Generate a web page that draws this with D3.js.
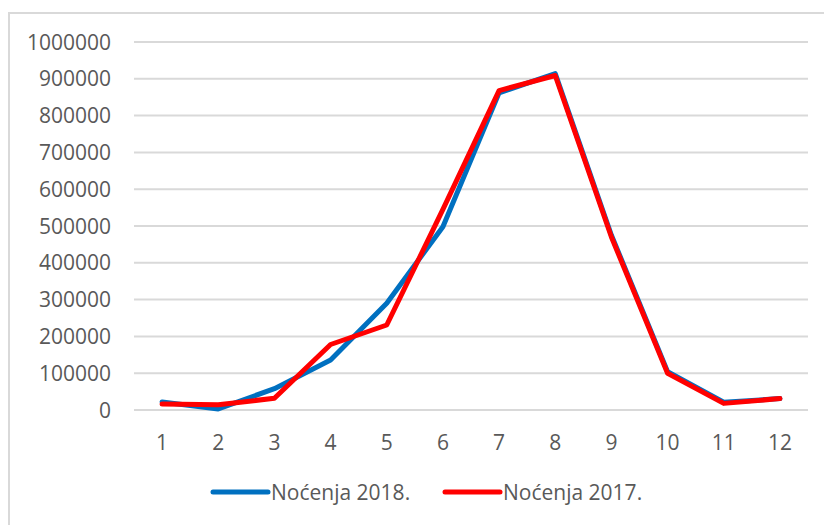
<!DOCTYPE html>
<html>
<head>
<meta charset="utf-8">
<script src="https://cdn.jsdelivr.net/npm/d3@7"></script>
<style>
  body { margin: 0; background: #fff; }
  svg { display: block; font-family: "Open Sans", sans-serif; }
</style>
</head>
<body>
<div id="chart"></div>
<script>
const months = [1, 2, 3, 4, 5, 6, 7, 8, 9, 10, 11, 12];
const nocenja2018 = [22000, 3000, 58000, 136000, 290000, 498000, 862000, 914000, 475000, 104000, 21000, 31000];
const nocenja2017 = [16000, 14000, 32000, 178000, 231000, 545000, 868000, 909000, 470000, 100000, 18000, 31000];
const yTicks = [0, 100000, 200000, 300000, 400000, 500000, 600000, 700000, 800000, 900000, 1000000];

const series = [
  { name: "Noćenja 2018.", values: nocenja2018, color: "#0070c0" },
  { name: "Noćenja 2017.", values: nocenja2017, color: "#ff0000" }
];

const width = 824, height = 525;
const margin = { top: 42, right: 16, bottom: 115, left: 134 };
const fontSize = "21px";

const svg = d3.select("#chart").append("svg")
  .attr("width", width)
  .attr("height", height);

// chart area border
svg.append("rect")
  .attr("x", 9).attr("y", 13)
  .attr("width", width).attr("height", height)
  .attr("fill", "none")
  .attr("stroke", "#d9d9d9")
  .attr("stroke-width", 2);

const x = d3.scaleBand()
  .domain(months)
  .range([margin.left, width - margin.right]);

const y = d3.scaleLinear()
  .domain([0, 1000000])
  .range([height - margin.bottom, margin.top]);

const g = svg.append("g");

// gridlines
g.selectAll("line.grid")
  .data(yTicks)
  .join("line")
  .attr("class", "grid")
  .attr("x1", margin.left)
  .attr("x2", width - margin.right)
  .attr("y1", d => y(d))
  .attr("y2", d => y(d))
  .attr("stroke", "#d9d9d9")
  .attr("stroke-width", 2);

// y labels
g.selectAll("text.ylab")
  .data(yTicks)
  .join("text")
  .attr("class", "ylab")
  .attr("x", margin.left - 23)
  .attr("y", d => y(d))
  .attr("dy", "0.36em")
  .attr("text-anchor", "end")
  .attr("fill", "#595959")
  .style("font-size", fontSize)
  .text(d => d);

// x labels
g.selectAll("text.xlab")
  .data(months)
  .join("text")
  .attr("class", "xlab")
  .attr("x", d => x(d) + x.bandwidth() / 2)
  .attr("y", y(0) + 32)
  .attr("dy", "0.36em")
  .attr("text-anchor", "middle")
  .attr("fill", "#595959")
  .style("font-size", fontSize)
  .text(d => d);

const line = d3.line()
  .x((d, i) => x(months[i]) + x.bandwidth() / 2)
  .y(d => y(d));

g.selectAll("path.series")
  .data(series)
  .join("path")
  .attr("class", "series")
  .attr("d", d => line(d.values))
  .attr("fill", "none")
  .attr("stroke", d => d.color)
  .attr("stroke-width", 5)
  .attr("stroke-linejoin", "round")
  .attr("stroke-linecap", "round");

// legend
const legendX = [213, 445];
const legend = svg.selectAll("g.legend")
  .data(series)
  .join("g")
  .attr("class", "legend")
  .attr("transform", (d, i) => `translate(${legendX[i]},492)`);

legend.append("line")
  .attr("x1", 0).attr("x2", 55)
  .attr("stroke", d => d.color)
  .attr("stroke-width", 5)
  .attr("stroke-linecap", "round");

legend.append("text")
  .attr("x", 58)
  .attr("dy", "0.36em")
  .attr("fill", "#595959")
  .style("font-size", fontSize)
  .text(d => d.name);
</script>
</body>
</html>
